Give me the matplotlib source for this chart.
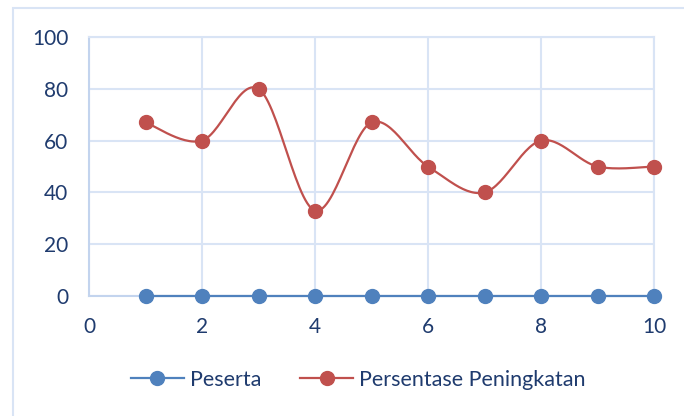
import numpy as np
import matplotlib.pyplot as plt
from matplotlib.lines import Line2D
from matplotlib.patches import Rectangle

x_vals = [1, 2, 3, 4, 5, 6, 7, 8, 9, 10]
peserta = [0, 0, 0, 0, 0, 0, 0, 0, 0, 0]
persentase = [67, 60, 80, 33, 67, 50, 40, 60, 50, 50]
x_ticks = [0, 2, 4, 6, 8, 10]
y_ticks = [0, 20, 40, 60, 80, 100]

blue = '#4f81bd'
red = '#c0504d'
grid_c = '#d9e4f5'
text_c = '#1f3b6e'


def smooth(xs, ys, n=30):
    # bezier smoothing like the spreadsheet "smoothed line" option
    xs = np.asarray(xs, float)
    ys = np.asarray(ys, float)
    px, py = [], []
    for i in range(len(xs) - 1):
        x0, y0 = (xs[i - 1], ys[i - 1]) if i > 0 else (xs[i], ys[i])
        x3, y3 = (xs[i + 2], ys[i + 2]) if i + 2 < len(xs) else (xs[i + 1], ys[i + 1])
        c1x = xs[i] + (xs[i + 1] - x0) / 6
        c1y = ys[i] + (ys[i + 1] - y0) / 6
        c2x = xs[i + 1] - (x3 - xs[i]) / 6
        c2y = ys[i + 1] - (y3 - ys[i]) / 6
        t = np.linspace(0, 1, n)
        px.extend((1 - t) ** 3 * xs[i] + 3 * (1 - t) ** 2 * t * c1x + 3 * (1 - t) * t ** 2 * c2x + t ** 3 * xs[i + 1])
        py.extend((1 - t) ** 3 * ys[i] + 3 * (1 - t) ** 2 * t * c1y + 3 * (1 - t) * t ** 2 * c2y + t ** 3 * ys[i + 1])
    return px, py


plt.rcParams['font.family'] = ['Lato', 'DejaVu Sans']

fig = plt.figure(figsize=(6.84, 4.16), dpi=100)
fig.patches.append(Rectangle((13 / 684, -0.1), 1.0, 1 - 8 / 416 + 0.1, transform=fig.transFigure,
                             fill=False, edgecolor=grid_c, linewidth=1.5))
ax = fig.add_axes([89 / 684, 1 - 296 / 416, (654 - 89) / 684, (296 - 37) / 416])

ax.set_xlim(0, 10)
ax.set_ylim(0, 100)
ax.set_xticks(x_ticks)
ax.set_yticks(y_ticks)
ax.grid(True, color=grid_c, linewidth=1.5)
ax.set_axisbelow(True)
for side in ['top', 'right']:
    ax.spines[side].set_color(grid_c)
    ax.spines[side].set_linewidth(1.5)
for side in ['left', 'bottom']:
    ax.spines[side].set_color('#c3d4ee')
    ax.spines[side].set_linewidth(1.5)
ax.tick_params(length=0, labelsize=15, labelcolor=text_c)
ax.tick_params(axis='y', pad=15)
ax.tick_params(axis='x', pad=15)

sx, sy = smooth(x_vals, peserta)
ax.plot(sx, sy, color=blue, lw=1.6, clip_on=False, zorder=3)
ax.plot(x_vals, peserta, 'o', color=blue, ms=10, clip_on=False, zorder=4)
sx, sy = smooth(x_vals, persentase)
ax.plot(sx, sy, color=red, lw=1.6, clip_on=False, zorder=3)
ax.plot(x_vals, persentase, 'o', color=red, ms=10, clip_on=False, zorder=4)

handles = [Line2D([], [], color=blue, lw=1.6, marker='o', ms=10),
           Line2D([], [], color=red, lw=1.6, marker='o', ms=10)]
fig.legend(handles, ['Peserta', 'Persentase Peningkatan'], loc='center', ncol=2,
           bbox_to_anchor=(0.524, 1 - 380 / 416), frameon=False, fontsize=15.5,
           labelcolor=text_c, handlelength=2.45, handletextpad=0.3, columnspacing=1.8)

fig.savefig('out.png', dpi=100)
